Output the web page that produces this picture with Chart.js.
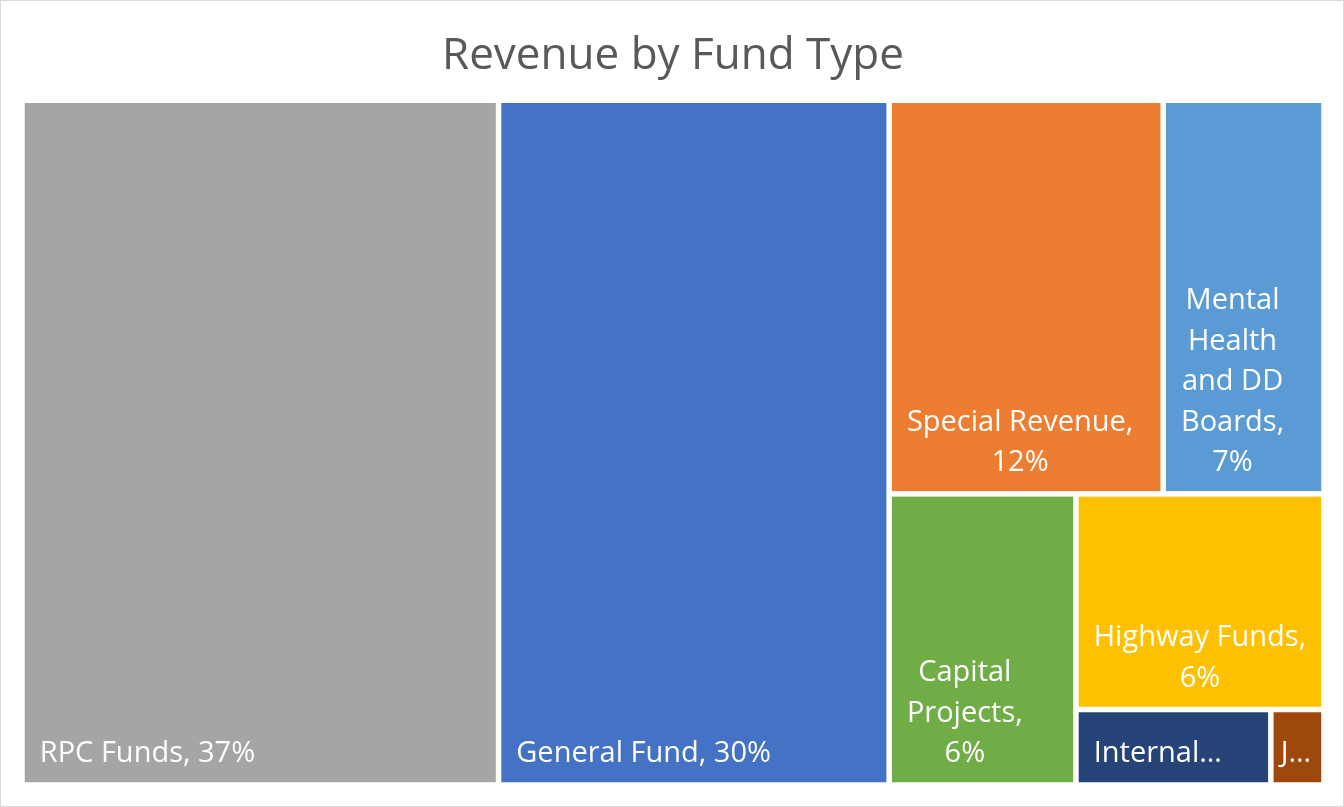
<!DOCTYPE html>
<html><head><meta charset="utf-8">
<script src="https://cdn.jsdelivr.net/npm/chart.js@4.4.0/dist/chart.umd.min.js"></script>
<style>
html,body{margin:0;padding:0;background:#fff;}
#wrap{width:1344px;height:807px;box-sizing:border-box;border:1px solid #d9d9d9;}
</style>
</head><body>
<div id="wrap"><canvas id="c"></canvas></div>
<script>
// data, in the order the workbook lists it (colours follow the Office palette)
const funds = ['General Fund', 'Special Revenue', 'RPC Funds', 'Highway Funds',
  'Mental Health and DD Boards', 'Capital Projects', 'Internal Service Funds', 'JEDD Funds'];
const shares = [30.0, 12.1, 36.6, 6.0, 7.1, 6.1, 1.65, 0.45];
const colors = ['#4472C4', '#ED7D31', '#A5A5A5', '#FFC000', '#5B9BD5', '#70AD47', '#264478', '#9E480E'];

const GAP = 5.5;
const LABEL_FONT = '29px "Open Sans"';
const LINE_H = 40.5;

const sum = arr => arr.reduce((s, it) => s + it.v, 0);

function worst(row, side, scale) {
  const thick = sum(row) * scale / side;
  let m = 0;
  row.forEach(it => {
    const len = it.v * scale / thick;
    m = Math.max(m, thick / len, len / thick);
  });
  return m;
}

// squarified layout, a little more willing to share a strip (like Excel)
function squarify(items, rect) {
  const out = [];
  let rest = items.slice();
  let r = Object.assign({}, rect);
  while (rest.length) {
    const scale = r.w * r.h / sum(rest);
    const side = Math.min(r.w, r.h);
    let row = [rest[0]];
    let i = 1;
    while (i < rest.length) {
      const cand = row.concat(rest[i]);
      if (worst(cand, side, scale) > worst(row, side, scale) * 1.5) break;
      row = cand;
      i++;
    }
    const thick = sum(row) * scale / side;
    let off = 0;
    if (r.w >= r.h) {
      row.forEach(it => {
        const len = it.v * scale / thick;
        out.push(Object.assign({}, it, {x: r.x, y: r.y + off, w: thick, h: len}));
        off += len;
      });
      r = {x: r.x + thick, y: r.y, w: r.w - thick, h: r.h};
    } else {
      row.forEach(it => {
        const len = it.v * scale / thick;
        out.push(Object.assign({}, it, {x: r.x + off, y: r.y, w: len, h: thick}));
        off += len;
      });
      r = {x: r.x, y: r.y + thick, w: r.w, h: r.h - thick};
    }
    rest = rest.slice(i);
  }
  return out;
}

function fitWord(ctx, word, maxW) {
  if (ctx.measureText(word).width <= maxW) return word;
  let s = word;
  while (s.length > 1 && ctx.measureText(s + '\u2026').width > maxW) s = s.slice(0, -1);
  return s + '\u2026';
}

function wrapLabel(ctx, text, maxW, maxLines) {
  const words = text.split(' ');
  const lines = [];
  let cur = '';
  words.forEach(w => {
    const t = cur ? cur + ' ' + w : w;
    if (cur && ctx.measureText(t).width > maxW) {
      lines.push(cur);
      cur = w;
    } else cur = t;
  });
  if (cur) lines.push(cur);
  let out = lines.map(l => fitWord(ctx, l, maxW));
  if (out.length > maxLines) {
    out = out.slice(0, Math.max(1, maxLines));
    const last = out.length - 1;
    if (!out[last].endsWith('\u2026')) out[last] = fitWord(ctx, out[last] + '\u2026', maxW);
  }
  return out;
}

const treemap = {
  id: 'treemap',
  afterDatasetsDraw(chart) {
    const {ctx, chartArea: a, scales: {x, y}} = chart;
    const aspect = a.width / a.height;
    const total = shares.reduce((s, v) => s + v, 0);
    const items = funds.map((f, i) => ({name: f, v: shares[i], color: colors[i]}))
      .sort((p, q) => q.v - p.v);
    const cells = squarify(items, {x: 0, y: 0, w: aspect, h: 1});

    ctx.save();
    cells.forEach(c => {
      const x0 = x.getPixelForValue(c.x / aspect) + GAP / 2;
      const x1 = x.getPixelForValue((c.x + c.w) / aspect) - GAP / 2;
      const y0 = y.getPixelForValue(c.y) + GAP / 2;
      const y1 = y.getPixelForValue(c.y + c.h) - GAP / 2;
      ctx.fillStyle = c.color;
      ctx.fillRect(x0, y0, x1 - x0, y1 - y0);

      // label: wrapped, bottom aligned, lines centred within the block
      const w = x1 - x0, h = y1 - y0;
      const pad = Math.min(15, w * 0.15);
      ctx.font = LABEL_FONT;
      ctx.fillStyle = '#ffffff';
      ctx.textBaseline = 'alphabetic';
      ctx.textAlign = 'center';
      const txt = c.name + ', ' + Math.round(c.v / total * 100) + '%';
      const maxLines = Math.max(1, Math.floor((h - 10) / LINE_H));
      const lines = wrapLabel(ctx, txt, w - 2 * pad, maxLines);
      const blockW = Math.max(...lines.map(l => ctx.measureText(l).width));
      const cx = x0 + pad + blockW / 2;
      lines.forEach((l, k) => {
        const base = y1 - 20 - (lines.length - 1 - k) * LINE_H;
        ctx.fillText(l, cx, base);
      });
    });
    ctx.restore();
  }
};

new Chart(document.getElementById('c'), {
  type: 'scatter',
  data: {datasets: [{data: []}]},
  options: {
    responsive: true,
    maintainAspectRatio: false,
    animation: false,
    layout: {padding: {left: 21, right: 19, bottom: 21, top: 0}},
    scales: {
      x: {type: 'linear', min: 0, max: 1, display: false},
      y: {type: 'linear', min: 0, max: 1, reverse: true, display: false}
    },
    plugins: {
      legend: {display: false},
      tooltip: {enabled: false},
      title: {
        display: true,
        text: 'Revenue by Fund Type',
        color: '#595959',
        font: {family: 'Open Sans', size: 44, weight: 'normal', lineHeight: 1.2},
        padding: {top: 29, bottom: 17.45}
      }
    }
  },
  plugins: [treemap]
});
</script>
</body></html>
